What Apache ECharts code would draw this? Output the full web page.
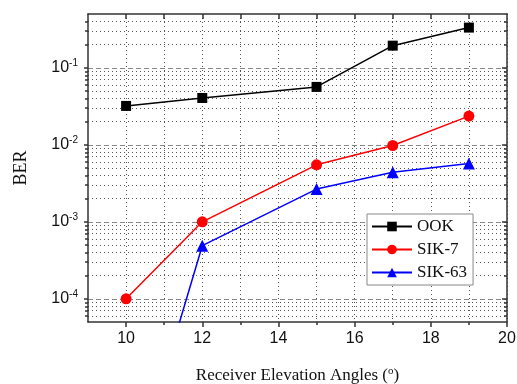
<!DOCTYPE html>
<html>
<head>
<meta charset="utf-8">
<script src="https://cdn.jsdelivr.net/npm/echarts@6/dist/echarts.min.js"></script>
<style>
  html, body { margin: 0; padding: 0; background: #fff; }
  #chart { width: 517px; height: 384px; }
</style>
</head>
<body>
<div id="chart"></div>
<script>
// values
const angles = [10, 12, 15, 17, 19]
const ookBer = [0.032, 0.0406, 0.0565, 0.194, 0.333]
const sik7Ber = [1.0e-4, 1.0e-3, 5.5e-3, 9.8e-3, 0.0236]
// first SIK-63 point lies below the axis; only its line segment shows
const sik63Ber = [2.3e-7, 4.9e-4, 2.66e-3, 4.4e-3, 5.7e-3]

const xMajorTicks = [10, 12, 14, 16, 18, 20]
const xMinorTicks = [11, 13, 15, 17, 19]
const xTopTicks = [10, 11, 12, 13, 14, 15, 16, 17, 18, 19]
const yMajorTicks = [1e-4, 1e-3, 1e-2, 1e-1]
const yMinorTicks = [
  6e-5, 7e-5, 8e-5, 9e-5,
  2e-4, 3e-4, 4e-4, 5e-4, 6e-4, 7e-4, 8e-4, 9e-4,
  2e-3, 3e-3, 4e-3, 5e-3, 6e-3, 7e-3, 8e-3, 9e-3,
  2e-2, 3e-2, 4e-2, 5e-2, 6e-2, 7e-2, 8e-2, 9e-2,
  0.2, 0.3, 0.4
]

const Y_MIN = 5e-5
const Y_MAX = 0.5
const frameColor = '#333'

const chart = echarts.init(document.getElementById('chart'))

function superscript(v) {
  const exp = Math.round(Math.log10(v))
  return '{b|10}{s|' + exp + '}'
}

const yBase = {
  type: 'log',
  min: Y_MIN,
  max: Y_MAX,
  axisLine: { show: false, onZero: false },
  axisLabel: { show: false },
  splitLine: { show: false },
  minorTick: { show: false },
  minorSplitLine: { show: false }
}

const xBase = {
  type: 'value',
  min: 9,
  max: 20,
  axisLine: { show: false, onZero: false },
  axisLabel: { show: false },
  splitLine: { show: false }
}

const option = {
  animation: false,
  grid: { left: 88, right: 10, top: 14, bottom: 62, outerBoundsMode: 'none' },
  legend: {
    orient: 'vertical',
    left: 367,
    top: 214,
    padding: [4, 6, 4, 4],
    itemGap: 6,
    itemWidth: 40,
    itemHeight: 12,
    backgroundColor: '#fff',
    borderColor: '#888',
    borderWidth: 1,
    textStyle: { fontFamily: 'Liberation Serif', fontSize: 17, color: '#111' },
    data: ['OOK', 'SIK-7', 'SIK-63']
  },
  xAxis: [
    Object.assign({}, xBase, {
      position: 'bottom',
      name: '{n|Receiver Elevation Angles (}{s|o}{n|)}',
      nameLocation: 'middle',
      nameGap: 44,
      nameTextStyle: {
        rich: {
          n: { fontFamily: 'Liberation Serif', fontSize: 17, color: '#111', lineHeight: 20 },
          s: { fontFamily: 'Liberation Serif', fontSize: 11, color: '#111', verticalAlign: 'top', padding: [0, 0, 6, 0] }
        }
      },
      axisLine: { show: true, onZero: false, lineStyle: { color: frameColor, width: 1.5 } },
      axisTick: { show: true, length: 5, customValues: xMajorTicks, lineStyle: { color: frameColor, width: 1.5 } },
      axisLabel: {
        show: true, customValues: xMajorTicks, margin: 9,
        fontFamily: 'Liberation Sans', fontSize: 16, color: '#111'
      },
      splitLine: { show: true, lineStyle: { color: '#555', type: [1, 3], width: 1 } }
    }),
    Object.assign({}, xBase, {
      position: 'bottom',
      axisTick: { show: true, length: 3, customValues: xMinorTicks, lineStyle: { color: frameColor, width: 1.5 } },
      splitLine: { show: true, lineStyle: { color: '#555', type: [1, 3], width: 1 } }
    }),
    Object.assign({}, xBase, {
      position: 'top',
      axisLine: { show: true, onZero: false, lineStyle: { color: frameColor, width: 1.5 } },
      axisTick: { show: true, inside: true, length: 5, customValues: xTopTicks, lineStyle: { color: frameColor, width: 1.5 } }
    })
  ],
  yAxis: [
    Object.assign({}, yBase, {
      position: 'left',
      name: 'BER',
      nameLocation: 'middle',
      nameGap: 58,
      nameTextStyle: { fontFamily: 'Liberation Serif', fontSize: 18, color: '#111' },
      axisLine: { show: true, onZero: false, lineStyle: { color: frameColor, width: 1.5 } },
      axisTick: { show: true, length: 4, customValues: yMajorTicks, lineStyle: { color: frameColor, width: 1.5 } },
      axisLabel: {
        show: true,
        customValues: yMajorTicks,
        margin: 10,
        formatter: superscript,
        rich: {
          b: { fontFamily: 'Liberation Sans', fontSize: 16, color: '#111', lineHeight: 20 },
          s: { fontFamily: 'Liberation Sans', fontSize: 10, color: '#111', verticalAlign: 'top' }
        }
      },
      splitLine: { show: true, lineStyle: { color: '#888', type: [5, 3], width: 1 } }
    }),
    Object.assign({}, yBase, {
      position: 'left',
      axisTick: { show: true, length: 3, customValues: yMinorTicks, lineStyle: { color: frameColor, width: 1.5 } },
      splitLine: { show: true, lineStyle: { color: '#555', type: [1, 3], width: 1 } }
    }),
    Object.assign({}, yBase, {
      position: 'right',
      axisLine: { show: true, onZero: false, lineStyle: { color: frameColor, width: 1.5 } },
      axisTick: { show: true, inside: true, length: 5, customValues: yMajorTicks, lineStyle: { color: frameColor, width: 1.5 } }
    }),
    Object.assign({}, yBase, {
      position: 'right',
      axisTick: { show: true, inside: true, length: 3, customValues: yMinorTicks, lineStyle: { color: frameColor, width: 1.5 } }
    })
  ],
  series: [
    {
      name: 'OOK',
      type: 'line',
      data: angles.map((a, i) => [a, ookBer[i]]),
      symbol: 'rect',
      symbolSize: 10,
      color: '#000',
      lineStyle: { width: 1.5, color: '#000' },
      itemStyle: { color: '#000' }
    },
    {
      name: 'SIK-7',
      type: 'line',
      data: angles.map((a, i) => [a, sik7Ber[i]]),
      symbol: 'circle',
      symbolSize: 11,
      color: '#ff0000',
      lineStyle: { width: 1.5, color: '#ff0000' },
      itemStyle: { color: '#ff0000' }
    },
    {
      name: 'SIK-63',
      type: 'line',
      data: angles.map((a, i) => [a, sik63Ber[i]]),
      symbol: 'triangle',
      symbolSize: 12,
      clip: true,
      color: '#0000ff',
      lineStyle: { width: 1.5, color: '#0000ff' },
      itemStyle: { color: '#0000ff' }
    }
  ]
}

chart.setOption(option)
</script>
</body>
</html>
